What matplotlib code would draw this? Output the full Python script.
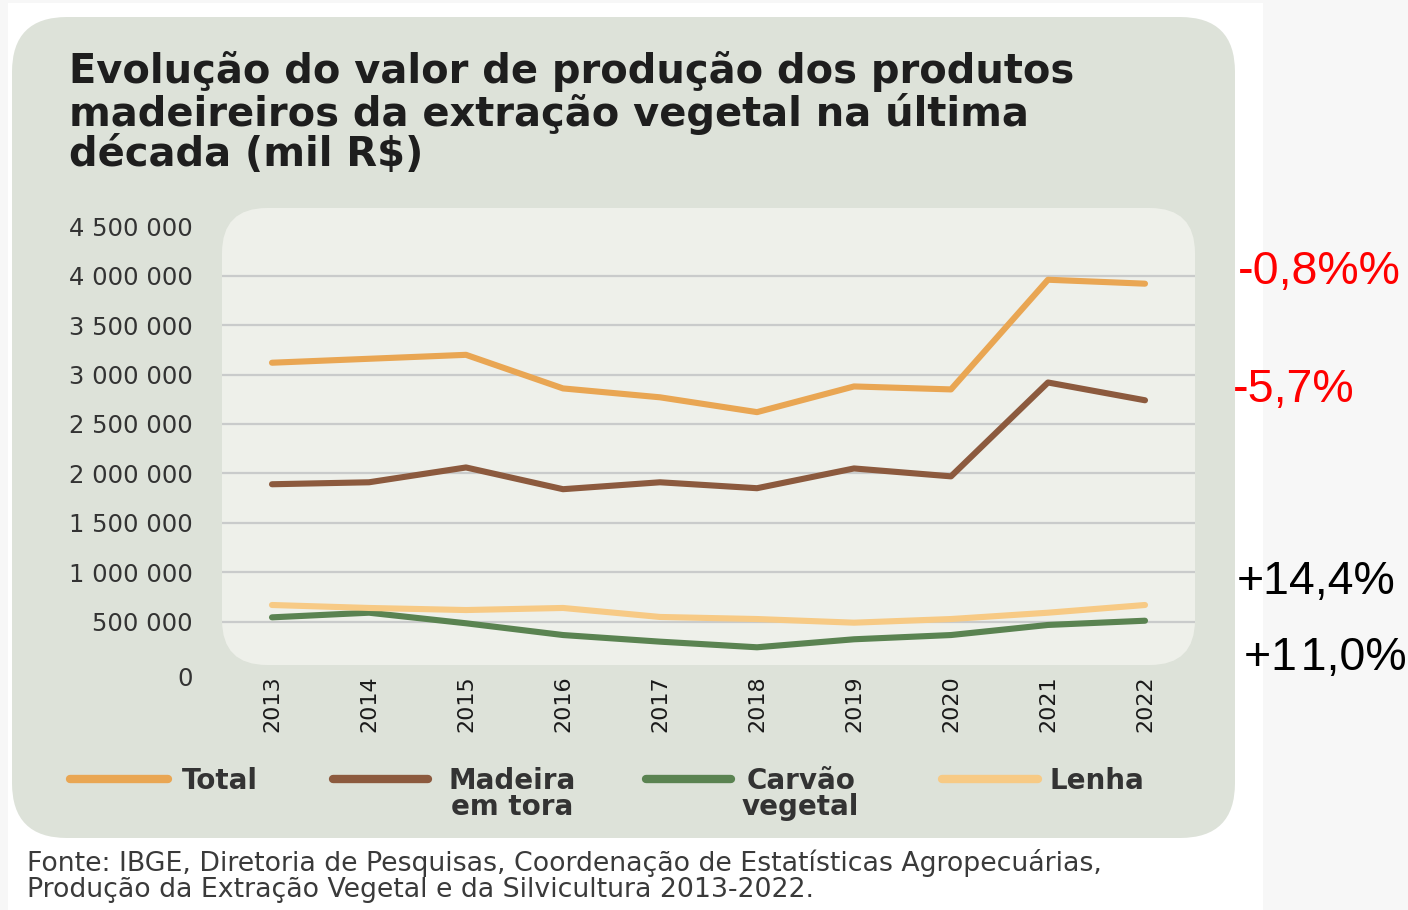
import matplotlib
matplotlib.use("Agg")
import matplotlib.pyplot as plt
from matplotlib.patches import FancyBboxPatch, Rectangle
from matplotlib.lines import Line2D
from matplotlib.transforms import ScaledTranslation

years = [2013, 2014, 2015, 2016, 2017, 2018, 2019, 2020, 2021, 2022]
total = [3120000, 3160000, 3200000, 2860000, 2770000, 2620000, 2880000, 2850000, 3960000, 3920000]
madeira = [1890000, 1910000, 2060000, 1840000, 1910000, 1850000, 2050000, 1970000, 2920000, 2740000]
carvao = [543000, 590000, 483000, 364000, 297000, 240000, 321000, 364000, 466000, 509000]
lenha = [668000, 638000, 617000, 638000, 547000, 526000, 489000, 526000, 590000, 668000]

series_names = ["Total", "Madeira\nem tora", "Carvão\nvegetal", "Lenha"]
series_colors = ["#e9a653", "#8c5a3e", "#5a8351", "#f7ca85"]
y_ticks = [0, 500000, 1000000, 1500000, 2000000, 2500000, 3000000, 3500000, 4000000, 4500000]
grid_vals = y_ticks[1:-1]

# hair space after the first "1" stops the "11" kerning pair squeezing the digits
changes = ["-0,8%%", "-5,7%", "+14,4%", "+1\u200a1,0%"]
change_colors = ["#ff0000", "#ff0000", "#000000", "#000000"]

title = "Evolução do valor de produção dos produtos\nmadeireiros da extração vegetal na última\ndécada (mil R$)"
source = ("Fonte: IBGE, Diretoria de Pesquisas, Coordenação de Estatísticas Agropecuárias,\n"
          "Produção da Extração Vegetal e da Silvicultura 2013-2022.")

W, H = 1408, 910
fig = plt.figure(figsize=(W / 100, H / 100), dpi=100)
fig.patch.set_facecolor("#f7f7f7")
tr = fig.dpi_scale_trans


def box(x0, y0, x1, y1, r, color, z):
    # pixel coords, y measured from top
    if r > 0:
        p = FancyBboxPatch((x0 / 100, (H - y1) / 100), (x1 - x0) / 100, (y1 - y0) / 100,
                           boxstyle=f"round,pad=0,rounding_size={r / 100}",
                           transform=tr, facecolor=color, edgecolor="none", zorder=z)
    else:
        p = Rectangle((x0 / 100, (H - y1) / 100), (x1 - x0) / 100, (y1 - y0) / 100,
                      transform=tr, facecolor=color, edgecolor="none", zorder=z)
    fig.add_artist(p)


box(8, 3, 1263, 910, 0, "white", -3)
box(12, 17, 1235, 838, 55, "#dde2d9", -2)
box(222, 208, 1195, 665, 45, "#eef0ea", -1)

fig.text(69 / 100, (H - 51) / 100, title, transform=tr, ha="left", va="top",
         fontsize=28.8, fontweight="bold", family="DejaVu Sans", color="#1e1e1e",
         linespacing=1.02)

ax = fig.add_axes([222 / W, (H - 671) / H, (1195 - 222) / W, (671 - 208) / H])
ax.patch.set_alpha(0)
for s in ax.spines.values():
    s.set_visible(False)
ax.set_xlim(years[0] - 50 / 97, years[-1] + 50 / 97)
ax.set_ylim(0, 4686000)

for v in grid_vals:
    ax.axhline(v, color="#c9cbcb", lw=1.6, zorder=1)

for vals, c in zip([total, madeira, carvao, lenha], series_colors):
    ax.plot(years, vals, color=c, lw=4.4, solid_capstyle="round",
            solid_joinstyle="round", zorder=3)

ax.set_yticks(y_ticks)
ax.set_yticklabels([f"{v:,}".replace(",", " ") for v in y_ticks])
ax.set_xticks(years)
ax.set_xticklabels([str(y) for y in years], rotation=90)
ax.tick_params(axis="y", length=0, pad=21, labelsize=17.5, labelcolor="#333333")
ax.tick_params(axis="x", length=0, pad=3, labelsize=16, labelcolor="#1a1a1a")
for lab in ax.get_yticklabels() + ax.get_xticklabels():
    lab.set_family("DejaVu Sans")
zero_lab = ax.yaxis.get_major_ticks()[0].label1
zero_lab.set_transform(zero_lab.get_transform() + ScaledTranslation(0, -0.06, tr))

# legend
leg_line_x = [(70, 168), (333, 428), (646, 731), (942, 1038)]
leg_text_x = [182, 448, 742, 1049]
for (x0, x1), tx, name, c in zip(leg_line_x, leg_text_x, series_names, series_colors):
    fig.add_artist(Line2D([x0 / 100, x1 / 100], [(H - 779) / 100] * 2, transform=tr,
                          color=c, lw=6, solid_capstyle="round"))
    fig.text(tx / 100, (H - 767) / 100, name, transform=tr, ha="left", va="top",
             fontsize=20, fontweight="bold", family="DejaVu Sans", color="#333333",
             linespacing=0.9, multialignment="center")

fig.text(27 / 100, (H - 849) / 100, source, transform=tr, ha="left", va="top",
         fontsize=19.3, family="DejaVu Sans", color="#3a3a3a", linespacing=0.99)

# change annotations on the right
chg_pos = [(1238, 272), (1233, 390), (1237, 582), (1244, 658)]
for (x, y), t, c in zip(chg_pos, changes, change_colors):
    fig.text(x / 100, (H - y) / 100, t, transform=tr, ha="left", va="center",
             fontsize=33.5, family="Liberation Sans", color=c)

fig.savefig("out.png", dpi=100, facecolor=fig.get_facecolor())
